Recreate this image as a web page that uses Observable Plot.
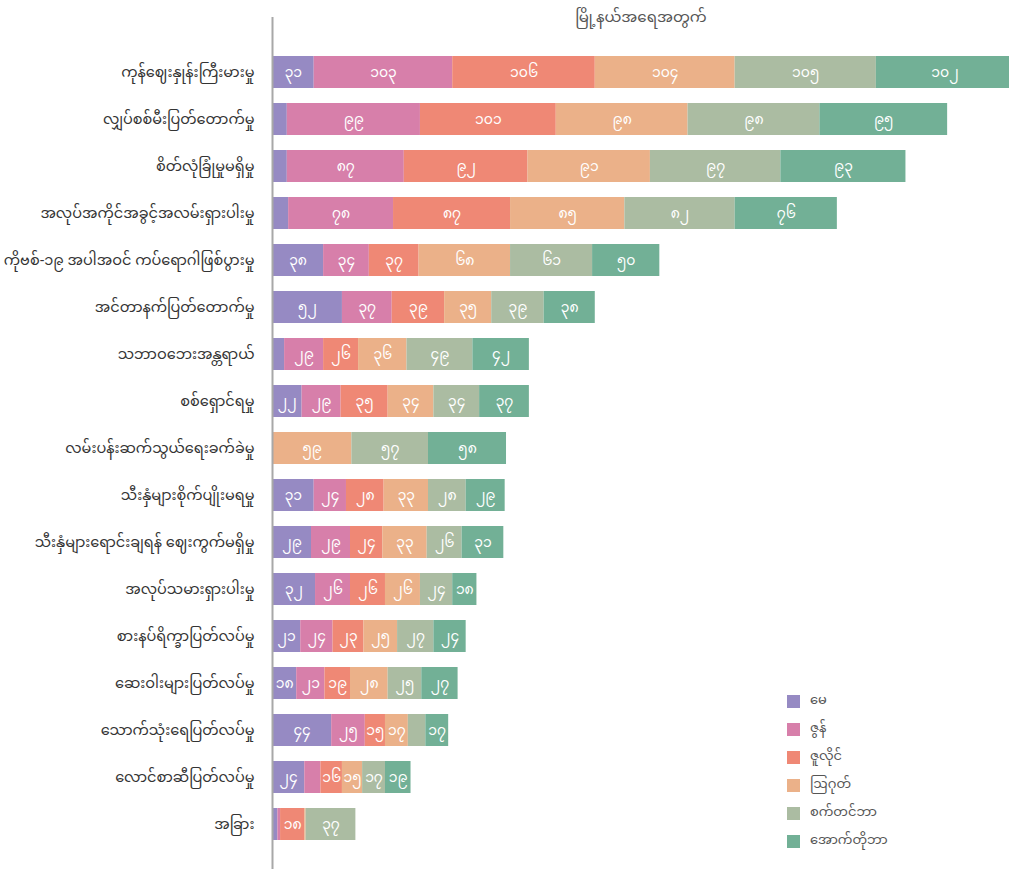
<!DOCTYPE html>
<html>
<head>
<meta charset="utf-8">
<script src="https://cdn.jsdelivr.net/npm/d3@7"></script>
<script src="https://cdn.jsdelivr.net/npm/@observablehq/plot@0.6"></script>
<style>
  html, body { margin: 0; padding: 0; background: #fff; overflow: hidden; }
  #wrap { position: relative; width: 1009px; height: 869px; }
  #wrap svg { font-family: "Noto Sans Myanmar", "Padauk", "Myanmar Text", "Noto Sans", sans-serif; }
  #legend { position: absolute; left: 787px; top: 687px; font-family: "Noto Sans Myanmar", "Padauk", "Noto Sans", sans-serif; font-size: 13px; color: #555; }
  #legend .row { display: flex; align-items: center; height: 28px; }
  #legend .sw { width: 13px; height: 13px; margin-right: 10px; }
</style>
</head>
<body>
<div id="wrap"></div>
<script>
const title = "မြို့နယ်အရေအတွက်";
const categories = [
  "ကုန်ဈေးနှုန်းကြီးမားမှု",
  "လျှပ်စစ်မီးပြတ်တောက်မှု",
  "စိတ်လုံခြုံမှုမရှိမှု",
  "အလုပ်အကိုင်အခွင့်အလမ်းရှားပါးမှု",
  "ကိုဗစ်-၁၉ အပါအဝင် ကပ်ရောဂါဖြစ်ပွားမှု",
  "အင်တာနက်ပြတ်တောက်မှု",
  "သဘာဝဘေးအန္တရာယ်",
  "စစ်ရှောင်ရမှု",
  "လမ်းပန်းဆက်သွယ်ရေးခက်ခဲမှု",
  "သီးနှံများစိုက်ပျိုးမရမှု",
  "သီးနှံများရောင်းချရန် ဈေးကွက်မရှိမှု",
  "အလုပ်သမားရှားပါးမှု",
  "စားနပ်ရိက္ခာပြတ်လပ်မှု",
  "ဆေးဝါးများပြတ်လပ်မှု",
  "သောက်သုံးရေပြတ်လပ်မှု",
  "လောင်စာဆီပြတ်လပ်မှု",
  "အခြား"
];
const months = ["မေ", "ဇွန်", "ဇူလိုင်", "ဩဂုတ်", "စက်တင်ဘာ", "အောက်တိုဘာ"];
const colors = ["#968ac3", "#d77faa", "#ef8875", "#ebb189", "#abbca2", "#72b096"];

const may = [31, 11, 11, 12, 38, 52, 9, 22, 0, 31, 29, 32, 21, 18, 44, 24, 4];
const june = [103, 99, 87, 78, 34, 37, 29, 29, 0, 24, 29, 26, 24, 21, 25, 12, 2];
const july = [106, 101, 92, 87, 37, 39, 26, 35, 0, 28, 24, 26, 23, 19, 15, 16, 18];
const august = [104, 98, 91, 85, 68, 35, 36, 34, 59, 33, 33, 26, 25, 28, 17, 15, 1];
const september = [105, 98, 97, 82, 61, 39, 49, 34, 57, 28, 26, 24, 27, 25, 13, 17, 37];
const october = [102, 95, 93, 76, 50, 38, 42, 37, 58, 29, 31, 18, 24, 27, 17, 19, 0];

const series = [may, june, july, august, september, october];
const data = [];
categories.forEach((c, i) => {
  months.forEach((m, j) => data.push({category: c, month: m, value: series[j][i]}));
});

const myDigits = "၀၁၂၃၄၅၆၇၈၉";
const toMy = v => String(v).replace(/\d/g, d => myDigits[+d]);

const chart = Plot.plot({
  width: 1009,
  height: 869,
  marginLeft: 272,
  marginRight: 0,
  marginTop: 17,
  marginBottom: 0,
  x: {domain: [0, 548], axis: null},
  y: {domain: categories, range: [38.3, 858.3], padding: 0.31, label: null},
  color: {domain: months, range: colors},
  marks: [
    Plot.barX(data, {x: "value", y: "category", fill: "month", order: months, clip: "frame"}),
    Plot.text(data, Plot.stackX({
      x: "value", y: "category", z: "month", order: months,
      text: d => d.value >= 15 ? toMy(d.value) : "",
      fill: "white", fontSize: 14
    })),
    Plot.ruleX([0], {stroke: "#a8a8a8", strokeWidth: 2}),
    Plot.axisY({tickSize: 0, tickPadding: 18, fontSize: 14.5, fill: "#333", label: null}),
    Plot.text([title], {frameAnchor: "top", text: d => d, fontSize: 15, fill: "#555", lineAnchor: "middle"})
  ]
});
const wrap = document.getElementById("wrap");
wrap.appendChild(chart);

const legend = document.createElement("div");
legend.id = "legend";
months.forEach((m, i) => {
  const row = document.createElement("div");
  row.className = "row";
  const sw = document.createElement("div");
  sw.className = "sw";
  sw.style.background = colors[i];
  const t = document.createElement("span");
  t.textContent = m;
  row.appendChild(sw);
  row.appendChild(t);
  legend.appendChild(row);
});
wrap.appendChild(legend);
</script>
</body>
</html>
